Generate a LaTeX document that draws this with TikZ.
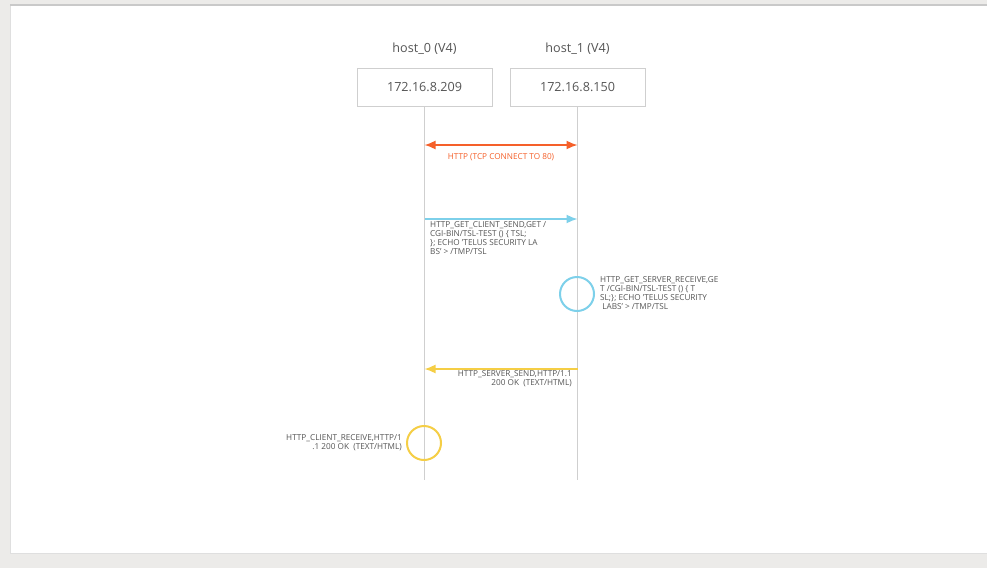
\documentclass[tikz,border=0pt]{standalone}
\usepackage{fontspec}
\setmainfont{Open Sans}
\usetikzlibrary{arrows,arrows.meta,positioning}

\definecolor{pagegray}{HTML}{ECEBE9}
\definecolor{framegray}{HTML}{C9C9C9}
\definecolor{linegray}{HTML}{CFCFCF}
\definecolor{textgray}{HTML}{555555}
\definecolor{tcporange}{HTML}{F5602A}
\definecolor{reqblue}{HTML}{7DD0EA}
\definecolor{respyellow}{HTML}{F5CE45}

\begin{document}
\begin{tikzpicture}[x=1pt,y=-1pt]
        \tikzstyle{every node}=[font=\fontsize{8.2}{9}\selectfont,text=textgray]
        \tikzstyle{hostbox}=[draw=linegray,line width=1pt,minimum width=135pt,minimum height=38pt,font=\fontsize{12.6}{14}\selectfont]
        \tikzstyle{hostname}=[font=\fontsize{12.6}{14}\selectfont]
        \tikzstyle{msg}=[inner sep=0pt]
        \tikzstyle{event}=[circle,line width=2pt,minimum size=34pt,inner sep=0pt]
        \tikzstyle{call}=[line width=1.6pt,-{Latex[length=11pt,width=9pt]}]
        \tikzstyle{connect}=[line width=1.6pt,{Latex[length=11pt,width=9pt]}-{Latex[length=11pt,width=9pt]}]

        %%% page
        \useasboundingbox (0,0) rectangle (987,568);
        \fill[pagegray] (0,0) rectangle (987,568);
        \fill[white] (10,5) rectangle (987,553);
        \draw[framegray!60,line width=1pt] (10.5,5) -- (10.5,553.5) -- (987,553.5);
        \draw[framegray,line width=2pt] (10,4.5) -- (987,4.5);

        %%% hosts
        \node[hostbox] (h0) at (424.5,87) {172.16.8.209};
        \node[hostbox] (h1) at (577.5,87) {172.16.8.150};
        \node[hostname] (h0name) at (424.5,49) {host\_0 (V4)};
        \node[hostname] (h1name) at (577.5,49) {host\_1 (V4)};
        \coordinate (h0end) at (424.5,480);
        \coordinate (h1end) at (577.5,480);

        \draw[linegray,line width=1.5pt] (h0) -- (h0end);
        \draw[linegray,line width=1.5pt] (h1) -- (h1end);

        %%% messages
        \coordinate (tcp0) at (424.5,145);
        \coordinate (tcp1) at (577.5,145);
        \coordinate (get0) at (424.5,219);
        \coordinate (get1) at (577.5,219);
        \coordinate (ok1) at (577.5,369);
        \coordinate (ok0) at (424.5,369);

        \draw[connect,tcporange] (tcp0) -- (tcp1);
        \node[msg,text=tcporange] (tcplabel) at (501,157) {HTTP (TCP CONNECT TO 80)};

        \draw[call,reqblue] (get0) -- (get1);
        \node[msg,anchor=north west,align=left] (getlabel) at (430,221) {HTTP\_GET\_CLIENT\_SEND,GET /\\CGI-BIN/TSL-TEST () \{ TSL;\\\}; ECHO 'TELUS SECURITY LA\\BS' > /TMP/TSL};

        \node[event,draw=reqblue] (recv1) at (577,294) {};
        \node[msg,anchor=north west,align=left] (recvlabel) at (600,276) {HTTP\_GET\_SERVER\_RECEIVE,GE\\T /CGI-BIN/TSL-TEST () \{ T\\SL;\}; ECHO 'TELUS SECURITY\\\ LABS' > /TMP/TSL};

        \draw[call,respyellow] (ok1) -- (ok0);
        \node[msg,anchor=north east,align=right] (oklabel) at (572,370.5) {HTTP\_SERVER\_SEND,HTTP/1.1\\200 OK\ \ (TEXT/HTML)};

        \node[event,draw=respyellow] (recv0) at (424,443) {};
        \node[msg,anchor=north east,align=right] (cliabel) at (402,434) {HTTP\_CLIENT\_RECEIVE,HTTP/1\\.1 200 OK\ \ (TEXT/HTML)};
\end{tikzpicture}
\end{document}
